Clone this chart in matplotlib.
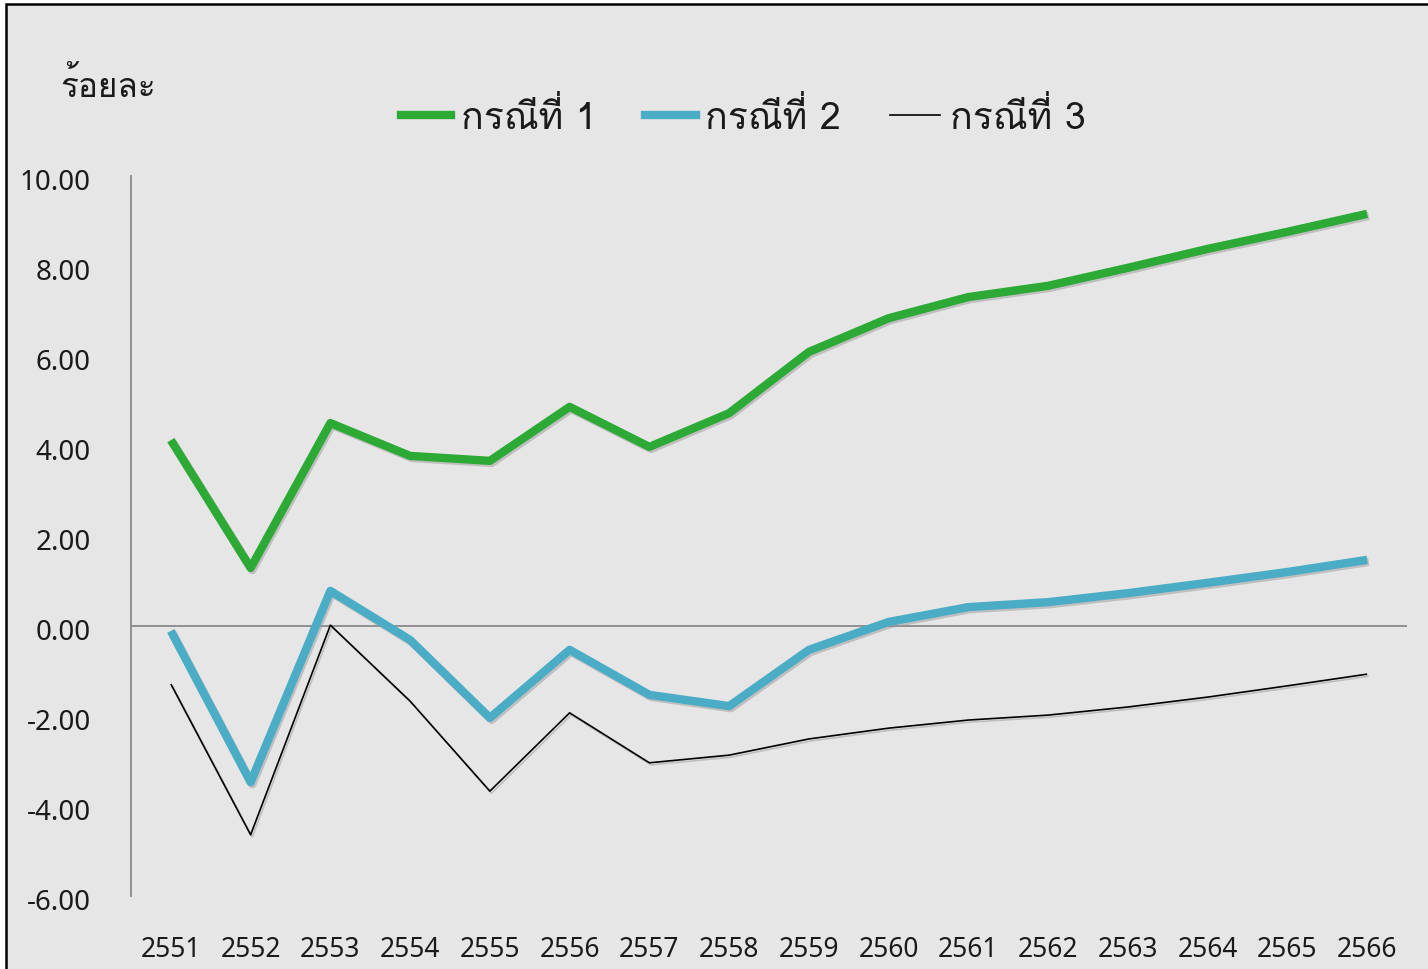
import matplotlib
matplotlib.use("Agg")
import matplotlib.pyplot as plt
import matplotlib.patheffects as pe
import matplotlib.transforms as mtransforms
from matplotlib.patches import Rectangle
from matplotlib.lines import Line2D

plt.rcParams['font.family'] = ['Noto Sans', 'DejaVu Sans']
thai = ['Loma', 'DejaVu Sans']

# ปี พ.ศ.
years = ['2551', '2552', '2553', '2554', '2555', '2556', '2557', '2558',
         '2559', '2560', '2561', '2562', '2563', '2564', '2565', '2566']

# กรณีที่ 1, 2, 3 (ร้อยละ)
case1 = [4.13, 1.29, 4.51, 3.78, 3.67, 4.87, 3.98, 4.73,
         6.09, 6.84, 7.31, 7.56, 7.96, 8.38, 8.76, 9.16]
case2 = [-0.11, -3.47, 0.78, -0.31, -2.04, -0.53, -1.53, -1.78,
         -0.53, 0.09, 0.42, 0.53, 0.73, 0.96, 1.20, 1.47]
case3 = [-1.29, -4.64, 0.02, -1.67, -3.67, -1.93, -3.04, -2.87,
         -2.51, -2.27, -2.09, -1.98, -1.80, -1.58, -1.33, -1.07]

labels = ['กรณีที่ 1', 'กรณีที่ 2', 'กรณีที่ 3']
colors = ['#2DA936', '#4BACC6', '#000000']
widths = [6.0, 6.0, 1.2]

bg = '#e6e6e6'
fig = plt.figure(figsize=(14.28, 9.7), dpi=100, facecolor='white')
# กรอบพื้นหลังสีเทา
fig.patches.append(Rectangle((6 / 1428, -0.02), 1.05, 1 - 5 / 970 + 0.02,
                             transform=fig.transFigure, facecolor=bg,
                             edgecolor='black', linewidth=1.8, zorder=-10))

ax = fig.add_axes([131 / 1428, 73 / 970, 1276 / 1428, 720 / 970])
ax.set_facecolor('none')

x = list(range(len(years)))
shadow = [pe.SimpleLineShadow(offset=(1.2, -1.5), shadow_color='#999999', alpha=0.5), pe.Normal()]
handles = []
for vals, lab, c, w in zip([case1, case2, case3], labels, colors, widths):
    ax.plot(x, vals, color=c, linewidth=w, solid_joinstyle='round',
            solid_capstyle='butt', path_effects=shadow, zorder=3)
    handles.append(Line2D([], [], color=c, linewidth=w))

ax.axhline(0, color='#898989', linewidth=1.3, zorder=2)
ax.set_xlim(-0.5, len(years) - 0.5)
ax.set_ylim(-6, 10)
ax.set_yticks(range(-6, 11, 2))
ax.set_yticklabels([f'{v:.2f}' for v in range(-6, 11, 2)])
ax.set_xticks(x)
ax.set_xticklabels(years)
ax.tick_params(axis='y', length=0, pad=29, labelsize=20, labelcolor='#1a1a1a')
ax.tick_params(axis='x', length=0, pad=28, labelsize=19, labelcolor='#1a1a1a')

# ป้ายแกน y ต่ำลงเล็กน้อยเหมือนต้นฉบับ
shift = mtransforms.ScaledTranslation(0, -3 / 100, fig.dpi_scale_trans)
for t in ax.get_yticklabels():
    t.set_transform(t.get_transform() + shift)

for s in ['top', 'right', 'bottom']:
    ax.spines[s].set_visible(False)
ax.spines['left'].set_color('#898989')
ax.spines['left'].set_linewidth(1.3)

fig.text(60 / 1428, 1 - 86 / 970, 'ร้อยละ', family=thai, fontsize=24,
         va='center', ha='left', color='#1a1a1a')

leg = fig.legend(handles, labels, loc='center', bbox_to_anchor=(743 / 1428, 1 - 118 / 970),
                 ncol=3, frameon=False, prop={'family': thai, 'size': 27},
                 handlelength=1.35, handletextpad=0.25, columnspacing=1.3)
for t in leg.get_texts():
    t.set_color('#1a1a1a')

fig.savefig('out.png', dpi=100, facecolor='white')
